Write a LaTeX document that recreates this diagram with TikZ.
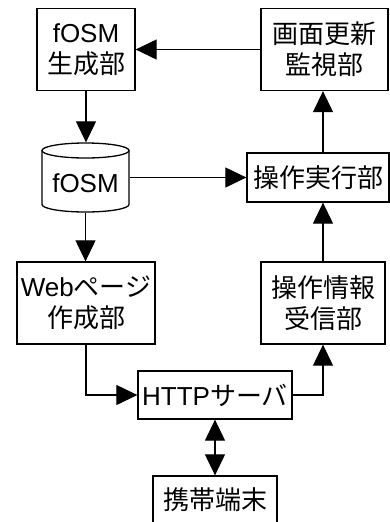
\documentclass[tikz,border=0pt]{standalone}
\usepackage{fontspec}
\setmainfont{Liberation Sans}
\newfontfamily\jp{Noto Sans CJK JP}
\usetikzlibrary{arrows.meta}

\begin{document}
\begin{tikzpicture}[x=1pt,y=-1pt,>={Triangle[length=21pt,width=20pt]},line width=1.3pt,block/.style={draw,align=center,inner sep=0pt,font=\fontsize{26pt}{31pt}\selectfont},store/.style={inner sep=0pt,minimum width=87pt,minimum height=69pt},flow/.style={->,line width=1.1pt}]
\useasboundingbox (0,0) rectangle (390,522);
\node[block,minimum width=98pt,minimum height=82pt] (gen) at (86,49.5) {fOSM\\{\jp 生成部}};
\node[block,minimum width=127pt,minimum height=82pt] (mon) at (324.5,49.5) {\jp 画面更新\\\jp 監視部};
\node[store] (db) at (85.5,177.5) {}; \node[block,draw=none] (dbtext) at (85.5,183) {fOSM};
\draw (42,150.5) -- (42,204.5) arc[start angle=180,end angle=0,x radius=43.5,y radius=7.5] -- (129,150.5);
\draw (85.5,150.5) ellipse[x radius=43.5,y radius=7.5];
\node[block,minimum width=142pt,minimum height=49pt] (exe) at (318,177.5) {\jp 操作実行部};
\node[block,minimum width=138pt,minimum height=82pt] (web) at (86,303) {Web{\jp ページ}\\{\jp 作成部}};
\node[block,minimum width=124pt,minimum height=82pt] (recv) at (323,303) {\jp 操作情報\\\jp 受信部};
\node[block,minimum width=154pt,minimum height=48pt] (http) at (215,395) {HTTP{\jp サーバ}};
\node[block,minimum width=124pt,minimum height=48pt] (mob) at (215,500) {\jp 携帯端末};
% connectors
\draw[flow] (mon.west) -- (gen.east); \draw[flow] (gen.south) -- (gen.south |- db.north);
\draw[flow] (db.south) -- (db.south |- web.north); \draw[flow] (db.east) -- (db.east -| exe.west);
\draw[flow] (exe.north -| recv.north) -- (mon.south -| recv.north); \draw[flow] (recv.north) -- (recv.north |- exe.south);
\draw[flow] (web.south) |- (http.west); \draw[flow] (http.east) -| (recv.south);
\draw[flow,<->] (http.south) -- (mob.north);
\end{tikzpicture}
\end{document}
